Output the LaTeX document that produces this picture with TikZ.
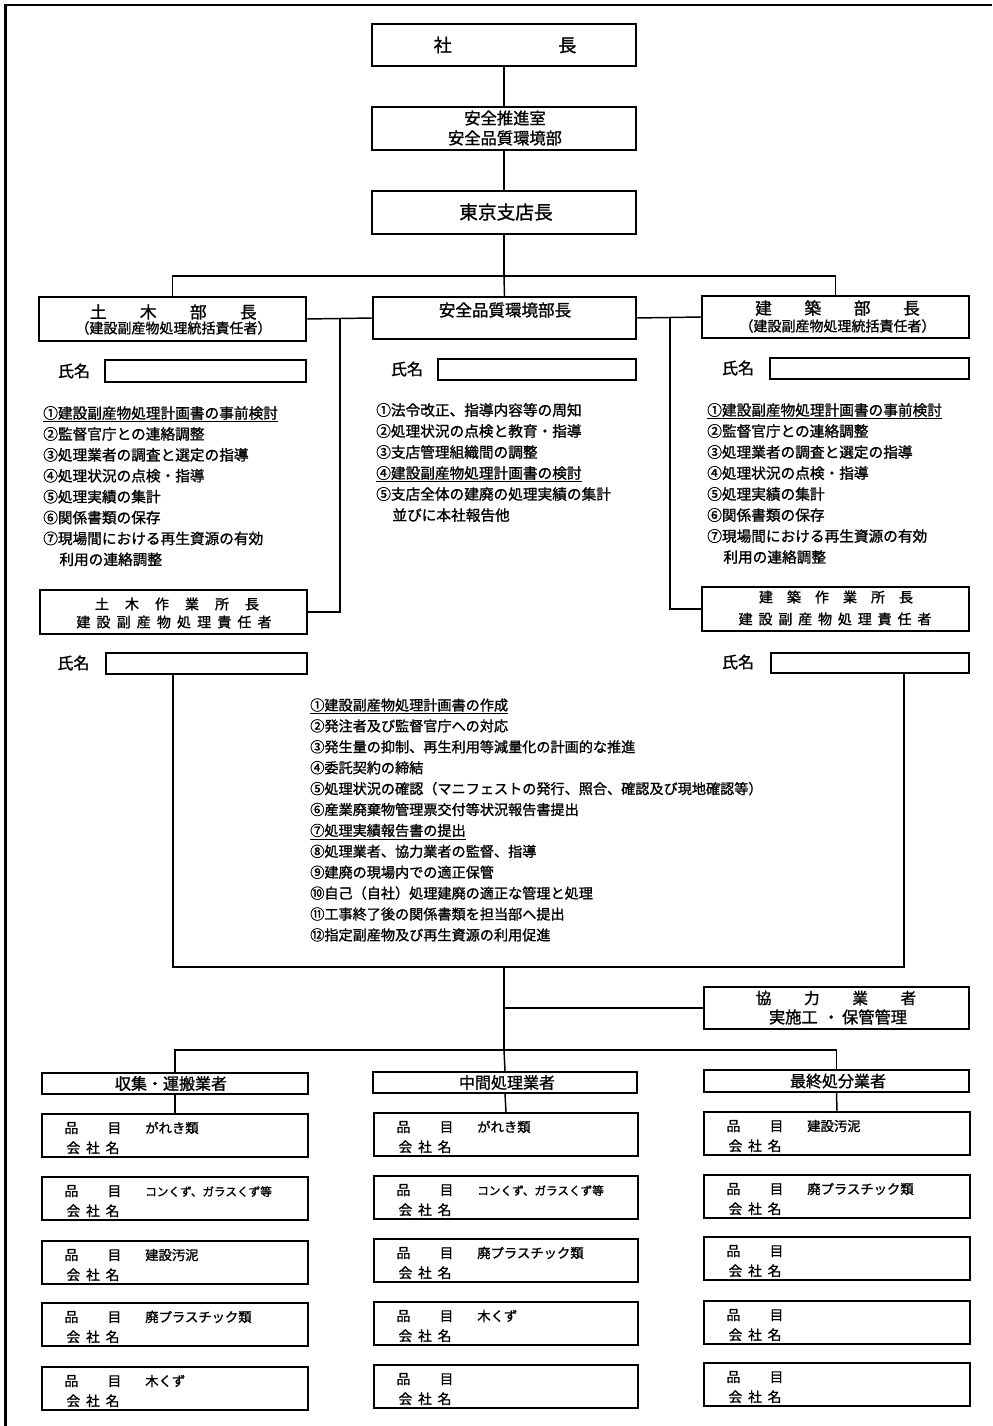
\documentclass[tikz,border=0pt]{standalone}
\usepackage{fontspec}
\setmainfont{Noto Sans CJK JP}[FakeBold=1.2]
\usetikzlibrary{fit}
\newcommand\fs[1]{\fontsize{#1}{#1}\selectfont}
% list of lines: prefix, x, first baseline, step, font size, items
\newcommand\listlines[6]{%
  \foreach \t [count=\i from 0] in {#6}
    \node[anchor=base west, inner sep=0pt, font=\fs{#5}] (#1-\i) at (#2, #3+#4*\i) {\t};}
% item box: name, x0, y0, width, item text
\newcommand\itembox[5]{%
  \node[box, fit={(#2,#3)(#2+#4,#3+43)}] (#1) {};
  \node[anchor=base, inner sep=0pt, font=\fs{10.3pt}] (#1-h) at (#2+51,#3+19) {品\hspace{22pt}目};
  \node[anchor=base west, inner sep=0pt, font=\fs{10pt}] (#1-t) at (#2+103,#3+19) {#5};
  \node[anchor=base, inner sep=0pt, font=\fs{10.3pt}] (#1-c) at (#2+51,#3+39) {会\hspace{4.4pt}社\hspace{4.4pt}名};}
\begin{document}
\begin{tikzpicture}[x=0.75pt,y=-0.75pt,
  box/.style={draw, line width=1.4pt, inner sep=0pt, rectangle},
  conn/.style={line width=1.1pt},
  lab/.style={inner sep=0pt}]
\fill[white] (0,0) rectangle (992,1426);
\useasboundingbox (0,0) rectangle (992,1426);
% frame
\coordinate (frTR) at (992,5);
\coordinate (frTL) at (5.5,5);
\coordinate (frBL) at (5.5,1426);
\draw[line width=1.9pt] (frTR) -- (frTL) -- (frBL);

% top chain
\node[box, fit={(372,24)(636,66)}] (pres) {};
\node[lab, font=\fs{13.5pt}] (pres-t) at (505,45) {社\hspace{80pt}長};
\node[box, fit={(372,107)(636,150)}] (suishin) {};
\node[lab, font=\fs{12.2pt}] (suishin-a) at (505,118) {安全推進室};
\node[lab, font=\fs{12.2pt}] (suishin-b) at (505,138) {安全品質環境部};
\node[box, fit={(372,191)(636,234)}] (tokyo) {};
\node[lab, font=\fs{14pt}] (tokyo-t) at (506,212) {東京支店長};

\draw[conn] (pres.south) -- (suishin.north);
\draw[conn] (suishin.south) -- (tokyo.north);

% second level
\node[box, fit={(39,297)(306,341)}] (doboku) {};
\node[lab, font=\fs{12.5pt}] (doboku-a) at (173.3,312) {土\hspace{25pt}木\hspace{25pt}部\hspace{25pt}長};
\node[lab, font=\fs{10.5pt}] (doboku-b) at (173.5,328) {（建設副産物処理統括責任者）};

\node[box, fit={(373,297)(636,339)}] (anzen) {};
\node[lab, font=\fs{12.4pt}] (anzen-t) at (505,310) {安全品質環境部長};

\node[box, fit={(702,296)(969,338)}] (kenchiku) {};
\node[lab, font=\fs{12.5pt}] (kenchiku-a) at (837.5,308) {建\hspace{24.5pt}築\hspace{24.5pt}部\hspace{24.5pt}長};
\node[lab, font=\fs{10.5pt}] (kenchiku-b) at (837.5,326) {（建設副産物処理統括責任者）};

\coordinate (j1) at (504,276);
\draw[conn] (tokyo.south) -- (j1);
\draw[conn] (j1) -- (anzen.north);
\draw[conn] (doboku.north) |- (j1) -| (kenchiku.north);
\draw[conn] (doboku.east) -- (anzen.west);
\draw[conn] (anzen.east) -- (kenchiku.west);

% name fields
\node[lab, font=\fs{12pt}] (dname-l) at (74,371) {氏名};
\node[box, fit={(105,360)(306,382)}] (dname) {};
\node[lab, font=\fs{12pt}] (aname-l) at (407,369) {氏名};
\node[box, fit={(438,359)(636,380)}] (aname) {};
\node[lab, font=\fs{12pt}] (kname-l) at (738,368) {氏名};
\node[box, fit={(770,358)(969,379)}] (kname) {};

% duty lists
\listlines{dl}{43}{418.6}{20.9}{11pt}{{\underline{①建設副産物処理計画書の事前検討}},②監督官庁との連絡調整,③処理業者の調査と選定の指導,④処理状況の点検・指導,⑤処理実績の集計,⑥関係書類の保存,⑦現場間における再生資源の有効,{\hspace{1.1em}利用の連絡調整}}
\listlines{al}{376}{415.6}{21}{11pt}{①法令改正、指導内容等の周知,②処理状況の点検と教育・指導,③支店管理組織間の調整,{\underline{④建設副産物処理計画書の検討}},⑤支店全体の建廃の処理実績の集計,{\hspace{1.1em}並びに本社報告他}}
\listlines{kl}{707}{415.6}{21}{11pt}{{\underline{①建設副産物処理計画書の事前検討}},②監督官庁との連絡調整,③処理業者の調査と選定の指導,④処理状況の点検・指導,⑤処理実績の集計,⑥関係書類の保存,⑦現場間における再生資源の有効,{\hspace{1.1em}利用の連絡調整}}

% site managers
\node[box, fit={(40,590)(307,634)}] (dsagyo) {};
\node[lab, font=\fs{10.5pt}] (dsagyo-a) at (177,604) {土\hspace{12pt}木\hspace{12pt}作\hspace{12pt}業\hspace{12pt}所\hspace{12pt}長};
\node[lab, font=\fs{10.5pt}] (dsagyo-b) at (174,622) {建\hspace{4.6pt}設\hspace{4.6pt}副\hspace{4.6pt}産\hspace{4.6pt}物\hspace{4.6pt}処\hspace{4.6pt}理\hspace{4.6pt}責\hspace{4.6pt}任\hspace{4.6pt}者};
\node[box, fit={(702,587)(969,631)}] (ksagyo) {};
\node[lab, font=\fs{10.5pt}] (ksagyo-a) at (836,597) {建\hspace{10.5pt}築\hspace{10.5pt}作\hspace{10.5pt}業\hspace{10.5pt}所\hspace{10.5pt}長};
\node[lab, font=\fs{10.5pt}] (ksagyo-b) at (835,619) {建\hspace{4.4pt}設\hspace{4.4pt}副\hspace{4.4pt}産\hspace{4.4pt}物\hspace{4.4pt}処\hspace{4.4pt}理\hspace{4.4pt}責\hspace{4.4pt}任\hspace{4.4pt}者};

\coordinate (dj) at (340,318);
\coordinate (kj) at (670,317);
\draw[conn] (dj) |- (dsagyo.east);
\draw[conn] (kj) |- (ksagyo.west);

\node[lab, font=\fs{12pt}] (dsname-l) at (73.5,663) {氏名};
\node[box, fit={(106,653)(307,674)}] (dsname) {};
\node[lab, font=\fs{12pt}] (ksname-l) at (738,662) {氏名};
\node[box, fit={(771,653)(969,673)}] (ksname) {};

% bracket enclosing site duties
\coordinate (u1) at (173,674);
\coordinate (u2) at (173,967);
\coordinate (um) at (504,967);
\coordinate (u3) at (904,967);
\coordinate (u4) at (904,673);
\draw[conn] (u1) -- (u2) -- (u3) -- (u4);

\listlines{sl}{310}{710.4}{20.9}{10.6pt}{{\underline{①建設副産物処理計画書の作成}},②発注者及び監督官庁への対応,③発生量の抑制、再生利用等減量化の計画的な推進,④委託契約の締結,⑤処理状況の確認（マニフェストの発行、照合、確認及び現地確認等）,⑥産業廃棄物管理票交付等状況報告書提出,{\underline{⑦処理実績報告書の提出}},⑧処理業者、協力業者の監督、指導,⑨建廃の現場内での適正保管,⑩自己（自社）処理建廃の適正な管理と処理,⑪工事終了後の関係書類を担当部へ提出,⑫指定副産物及び再生資源の利用促進}

% contractors
\node[box, fit={(704,987)(969,1029)}] (kyo) {};
\node[lab, font=\fs{11.7pt}] (kyo-a) at (836,998) {協\hspace{24.5pt}力\hspace{24.5pt}業\hspace{24.5pt}者};
\node[lab, font=\fs{12.2pt}] (kyo-b) at (838,1017) {実施工\hspace{4pt}・\hspace{2pt}保管管理};
\coordinate (kj2) at (504,1008);
\coordinate (bj) at (504,1050);
\draw[conn] (um) -- (bj);
\draw[conn] (kj2) -- (kyo.west);

% categories
\node[box, fit={(42,1073)(308,1094)}] (cat1) {};
\node[lab, font=\fs{12pt}] (cat1-t) at (171,1083.5) {収集・運搬業者};
\node[box, fit={(373,1072)(637,1093)}] (cat2) {};
\node[lab, font=\fs{12pt}] (cat2-t) at (507,1082.5) {中間処理業者};
\node[box, fit={(704,1070)(969,1092)}] (cat3) {};
\node[lab, font=\fs{12pt}] (cat3-t) at (838,1081) {最終処分業者};
\draw[conn] (cat1.north) |- (bj) -| (cat3.north);
\draw[conn] (bj) -- (cat2.north);

% item boxes
\itembox{a1}{42}{1114}{266}{がれき類}
\itembox{a2}{42}{1177}{266}{{\fs{8.7pt}コンくず、ガラスくず等}}
\itembox{a3}{42}{1241}{266}{建設汚泥}
\itembox{a4}{42}{1303}{266}{廃プラスチック類}
\itembox{a5}{42}{1367}{266}{木くず}
\itembox{b1}{374}{1113}{264}{がれき類}
\itembox{b2}{374}{1176}{264}{{\fs{8.7pt}コンくず、ガラスくず等}}
\itembox{b3}{374}{1239}{264}{廃プラスチック類}
\itembox{b4}{374}{1302}{264}{木くず}
\itembox{b5}{374}{1365}{264}{}
\itembox{c1}{704}{1112}{266}{建設汚泥}
\itembox{c2}{704}{1175}{266}{廃プラスチック類}
\itembox{c3}{704}{1237}{266}{}
\itembox{c4}{704}{1301}{266}{}
\itembox{c5}{704}{1363}{266}{}
\draw[conn] (cat1.south) -- (a1.north);
\draw[conn] (cat2.south) -- (b1.north);
\draw[conn] (cat3.south) -- (c1.north);
\end{tikzpicture}
\end{document}
